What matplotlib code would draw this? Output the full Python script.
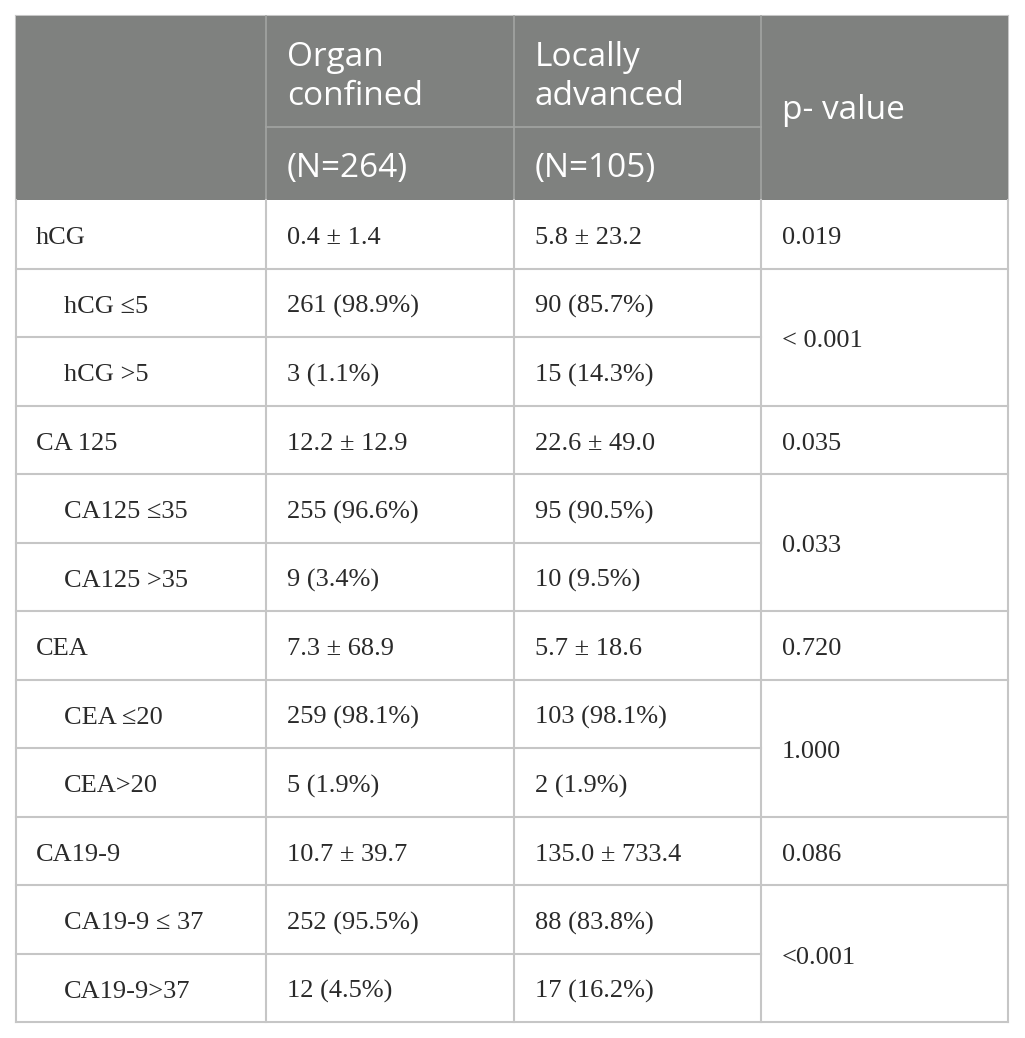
import numpy as np
import matplotlib
matplotlib.use("Agg")
from matplotlib import pyplot as plt
from matplotlib.patches import Rectangle

# table content
head_cols = [["Organ", "confined"], ["Locally", "advanced"]]
head_n = ["(N=264)", "(N=105)"]
head_p = "p- value"

row_labels = ["hCG", "hCG \u22645", "hCG >5",
              "CA 125", "CA125 \u226435", "CA125 >35",
              "CEA", "CEA \u226420", "CEA>20",
              "CA19-9", "CA19-9 \u2264 37", "CA19-9>37"]
row_indent = [0, 1, 1, 0, 1, 1, 0, 1, 1, 0, 1, 1]
organ_confined = ["0.4 \u00b1 1.4", "261 (98.9%)", "3 (1.1%)",
                  "12.2 \u00b1 12.9", "255 (96.6%)", "9 (3.4%)",
                  "7.3 \u00b1 68.9", "259 (98.1%)", "5 (1.9%)",
                  "10.7 \u00b1 39.7", "252 (95.5%)", "12 (4.5%)"]
locally_advanced = ["5.8 \u00b1 23.2", "90 (85.7%)", "15 (14.3%)",
                    "22.6 \u00b1 49.0", "95 (90.5%)", "10 (9.5%)",
                    "5.7 \u00b1 18.6", "103 (98.1%)", "2 (1.9%)",
                    "135.0 \u00b1 733.4", "88 (83.8%)", "17 (16.2%)"]
# p-values: (first row, number of rows spanned, text)
p_values = [(0, 1, "0.019"), (1, 2, "< 0.001"),
            (3, 1, "0.035"), (4, 2, "0.033"),
            (6, 1, "0.720"), (7, 2, "1.000"),
            (9, 1, "0.086"), (10, 2, "<0.001")]

W, H = 1025, 1038
fig = plt.figure(figsize=(W / 100, H / 100), dpi=100)
ax = fig.add_axes([0, 0, 1, 1])
ax.set_xlim(0, W)
ax.set_ylim(H, 0)
ax.axis("off")

header_bg = "#7f817f"
line_c = "#c6c6c6"
head_line_c = "#a2a4a2"
x_cols = [16, 266, 514, 761, 1008]
y_top, y_mid, y_head = 16, 127, 200
y_rows = np.linspace(y_head, 1022, len(row_labels) + 1)

head_font = dict(family="Open Sans", size=24, color="white")
body_font = dict(family="Liberation Serif", size=19, color="#2a2a2a")

# header background
ax.add_patch(Rectangle((x_cols[0], y_top), x_cols[-1] - x_cols[0], y_head - y_top,
                       facecolor=header_bg, edgecolor="none", zorder=1))
# header lines
for x in x_cols[1:-1]:
    ax.plot([x, x], [y_top, y_head], color=head_line_c, lw=1.2, zorder=2)
ax.plot([x_cols[1], x_cols[3]], [y_mid, y_mid], color=head_line_c, lw=1.2, zorder=2)

# header text
for i in range(2):
    x = x_cols[i + 1] + 21
    ax.text(x, 66, head_cols[i][0], ha="left", va="baseline", **head_font)
    ax.text(x, 105, head_cols[i][1], ha="left", va="baseline", **head_font)
    ax.text(x, 177, head_n[i], ha="left", va="baseline", **head_font)
ax.text(x_cols[3] + 21, 119, head_p, ha="left", va="baseline", **head_font)

# body grid
for x in x_cols:
    ax.plot([x, x], [y_head, y_rows[-1]], color=line_c, lw=1.5, zorder=2)
for x in [x_cols[0], x_cols[-1]]:
    ax.plot([x, x], [y_top, y_head], color=line_c, lw=1.5, zorder=0.5)
ax.plot([x_cols[0], x_cols[-1]], [y_top, y_top], color=line_c, lw=1.5, zorder=0.5)
merged = {}
for start, span, _ in p_values:
    for k in range(start + 1, start + span):
        merged[k] = True
for k in range(1, len(y_rows)):
    y = y_rows[k]
    if k in merged:
        ax.plot([x_cols[0], x_cols[3]], [y, y], color=line_c, lw=1.5, zorder=2)
    else:
        ax.plot([x_cols[0], x_cols[-1]], [y, y], color=line_c, lw=1.5, zorder=2)

# body text
for i, lab in enumerate(row_labels):
    yb = (y_rows[i] + y_rows[i + 1]) / 2 + 10
    ax.text(36 + 28 * row_indent[i], yb, lab, ha="left", va="baseline", **body_font)
    ax.text(x_cols[1] + 21, yb, organ_confined[i], ha="left", va="baseline", **body_font)
    ax.text(x_cols[2] + 21, yb, locally_advanced[i], ha="left", va="baseline", **body_font)
for start, span, txt in p_values:
    yb = (y_rows[start] + y_rows[start + span]) / 2 + 10
    ax.text(x_cols[3] + 21, yb, txt, ha="left", va="baseline", **body_font)

fig.savefig("out.png", dpi=100, facecolor="white")
